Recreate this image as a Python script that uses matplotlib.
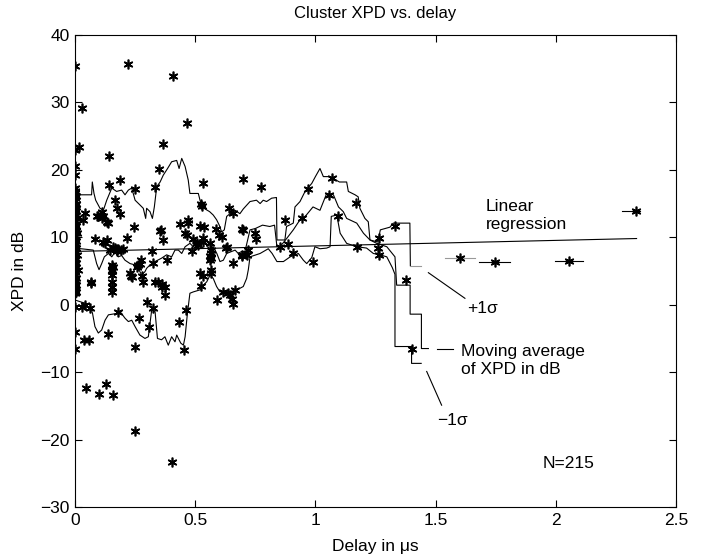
import numpy as np
import matplotlib
matplotlib.use("Agg")
import matplotlib.pyplot as plt

plt.rcParams['font.family'] = ['Liberation Sans', 'DejaVu Sans']

# cluster points (delay in us, XPD in dB)
pts_spread = [
    (0.000, 35.4), (0.219, 35.7), (0.409, 33.9), (0.030, 29.1), (0.467, 26.9),
    (0.017, 23.4), (0.000, 22.9), (0.366, 23.8), (0.143, 22.1), (0.000, 20.5),
    (0.351, 20.1), (0.000, 19.2), (0.187, 18.5), (0.531, 18.1), (0.697, 18.7),
    (0.141, 17.7), (0.333, 17.5), (0.774, 17.4), (0.251, 17.1), (0.971, 17.2),
    (0.166, 15.6), (0.523, 15.0), (0.527, 14.6), (0.176, 14.4), (0.639, 14.3),
    (0.187, 13.4), (0.042, 13.6), (0.111, 13.8), (0.659, 13.6), (0.090, 13.1),
    (0.111, 12.8), (0.035, 12.6), (0.132, 12.2), (0.943, 12.9), (0.875, 12.5),
    (0.245, 11.5), (0.437, 12.0), (0.471, 12.6), (0.471, 12.1), (0.520, 11.7),
    (0.537, 11.5), (0.585, 11.3), (0.693, 11.3), (0.697, 11.1), (0.354, 10.9),
    (0.458, 10.7), (0.464, 10.4), (0.749, 10.6), (0.753, 9.7), (0.600, 10.3),
    (0.610, 10.0), (0.367, 9.6), (0.215, 9.9), (0.083, 9.7), (0.132, 9.6),
    (0.118, 9.3), (0.492, 9.7), (0.531, 9.9), (0.534, 9.3), (0.506, 9.1),
    (0.562, 9.2), (0.157, 8.6), (0.166, 8.4), (0.146, 8.1), (0.173, 7.9),
    (0.198, 8.2), (0.319, 8.0), (0.488, 8.0), (0.627, 8.4), (0.566, 8.1),
    (0.566, 7.6), (0.566, 7.0), (0.853, 8.6), (0.885, 9.0), (0.908, 7.7),
    (0.721, 8.1), (0.693, 7.4), (0.714, 7.4), (0.381, 6.7), (0.326, 6.2),
    (0.275, 6.6), (0.270, 6.0), (0.257, 5.6), (0.159, 5.6), (0.153, 5.0),
    (0.520, 4.7), (0.534, 4.2), (0.566, 4.7), (0.566, 5.2), (0.229, 4.7),
    (0.277, 4.2), (0.659, 6.2), (0.067, 3.3), (0.153, 4.4), (0.153, 3.4),
    (0.155, 2.7), (0.153, 1.9), (0.232, 4.3), (0.263, 5.9), (0.284, 3.4),
    (0.236, 4.1), (0.333, 3.3), (0.344, 3.3), (0.360, 3.0), (0.374, 2.6),
    (0.374, 1.4), (0.523, 2.8), (0.589, 0.7), (0.617, 1.9), (0.638, 1.8),
    (0.645, 1.4), (0.652, 0.9), (0.659, 0.1), (0.666, 2.2), (0.000, -0.3),
    (0.042, 0.0), (0.062, -0.5), (0.000, -4.1), (0.000, -6.5), (0.039, -5.3),
    (0.060, -5.3), (0.136, -4.3), (0.180, -1.1), (0.266, -2.0), (0.250, -6.2),
    (0.298, 0.4), (0.309, -3.3), (0.323, -0.5), (0.434, -2.5), (0.462, -0.8),
    (0.453, -6.7), (0.046, -12.3), (0.101, -13.2), (0.128, -11.8), (0.159, -13.4),
    (0.250, -18.7), (0.405, -23.3),
    (0.097, 13.1), (0.118, 13.1), (0.139, 12.1), (0.358, 11.1), (0.125, 9.1),
    (0.513, 8.9), (0.631, 8.5), (0.180, 8.2), (0.190, 8.1), (0.562, 7.2),
    (0.562, 6.7), (0.693, 7.2), (0.153, 5.9), (0.153, 5.2), (0.065, 3.2),
    (0.363, 2.7), (0.028, -0.3),
]
# dense column of clusters at zero delay
pts_dense = [
    (0.000, 17.3), (0.000, 16.9), (0.000, 16.5), (0.004, 16.1), (0.000, 15.8),
    (0.000, 15.4), (0.006, 15.0), (0.000, 14.7), (0.000, 14.2), (0.003, 13.9),
    (0.000, 13.5), (0.000, 13.1), (0.008, 12.8), (0.000, 12.4), (0.000, 12.0),
    (0.004, 11.7), (0.000, 11.3), (0.000, 10.9), (0.010, 10.6), (0.000, 10.2),
    (0.000, 9.8), (0.005, 9.5), (0.000, 9.1), (0.000, 8.8), (0.003, 8.4),
    (0.000, 8.0), (0.000, 7.7), (0.007, 7.3), (0.000, 6.9), (0.000, 6.6),
    (0.004, 6.2), (0.000, 5.8), (0.000, 5.5), (0.012, 5.1), (0.000, 4.8),
    (0.000, 4.4), (0.005, 4.0), (0.000, 3.7), (0.000, 3.3), (0.003, 2.9),
    (0.000, 2.6), (0.000, 2.2), (0.006, 1.9), (0.000, 1.7), (0.004, 14.9),
    (0.004, 11.0),
]
pts_far = [
    (1.068, 18.8), (1.058, 16.3), (1.095, 13.2), (1.167, 15.1), (0.991, 6.3),
    (1.175, 8.6), (1.266, 9.9), (1.262, 8.4), (1.265, 7.3), (1.331, 11.7),
    (1.376, 3.6), (1.400, -6.6), (1.601, 6.9), (1.747, 6.3), (2.055, 6.5),
    (2.334, 13.9),
]

# moving average +1 sigma
up_x = [0, 0.069, 0.072, 0.079, 0.086, 0.104, 0.118, 0.132, 0.153, 0.173, 0.194, 0.208,
        0.222, 0.236, 0.25, 0.27, 0.284, 0.294, 0.298, 0.312, 0.322, 0.33, 0.34, 0.354,
        0.367, 0.385, 0.402, 0.423, 0.433, 0.444, 0.458, 0.471, 0.478, 0.513, 0.52, 0.527,
        0.56, 0.575, 0.589, 0.6, 0.61, 0.621, 0.631, 0.645, 0.666, 0.686, 0.70, 0.728,
        0.755, 0.77, 0.783, 0.797, 0.818, 0.838, 0.84, 0.873, 0.88, 0.908, 0.915, 0.936,
        0.957, 0.985, 1.0, 1.019, 1.033, 1.054, 1.075, 1.1, 1.13, 1.137, 1.165, 1.178,
        1.185, 1.206, 1.22, 1.227, 1.26, 1.27, 1.31, 1.324, 1.393, 1.395]
up_y = [16.3, 16.3, 18.2, 16.5, 15.5, 14.3, 14.0, 15.5, 17.3, 16.8, 17.0, 16.3,
        17.0, 17.3, 15.5, 14.8, 14.3, 12.8, 14.3, 13.8, 12.8, 14.5, 17.5, 18.2,
        19.2, 20.2, 21.2, 21.4, 20.2, 21.7, 20.5, 18.5, 16.5, 16.5, 15.5, 14.5,
        13.8, 13.3, 12.6, 11.8, 10.8, 11.1, 13.1, 13.5, 14.0, 13.5, 14.2, 15.3,
        15.5, 15.0, 15.5, 15.3, 15.8, 15.9, 9.6, 9.6, 11.6, 12.1, 14.5, 15.3,
        16.8, 18.0, 19.0, 20.2, 19.0, 19.0, 18.7, 18.2, 18.2, 16.8, 16.3, 16.0,
        14.3, 12.8, 12.3, 9.6, 9.3, 11.1, 11.5, 12.1, 12.1, 5.8]
up_tail_x = [1.395, 1.44]
up_tail_y = [5.8, 5.8]

# moving average of XPD
avg_x = [0, 0.076, 0.09, 0.1, 0.111, 0.122, 0.139, 0.153, 0.166, 0.18, 0.194, 0.208,
         0.229, 0.25, 0.263, 0.277, 0.291, 0.298, 0.312, 0.333, 0.36, 0.381, 0.402,
         0.416, 0.43, 0.444, 0.458, 0.478, 0.492, 0.506, 0.52, 0.534, 0.548, 0.562,
         0.575, 0.59, 0.603, 0.617, 0.631, 0.652, 0.666, 0.679, 0.693, 0.707, 0.728,
         0.75, 0.78, 0.81, 0.83, 0.84, 0.853, 0.88, 0.908, 0.936, 0.96, 0.99, 1.019,
         1.047, 1.075, 1.096, 1.116, 1.13, 1.172, 1.2, 1.227, 1.255, 1.297, 1.331,
         1.338, 1.394, 1.394, 1.441, 1.441, 1.47]
avg_y = [8.4, 8.1, 6.1, 5.2, 6.1, 7.1, 7.6, 7.1, 7.8, 7.1, 7.3, 6.6,
         6.1, 5.9, 5.4, 4.4, 4.9, 5.4, 5.9, 6.4, 6.9, 7.4, 7.1,
         8.1, 8.1, 7.6, 8.6, 9.1, 8.6, 9.6, 9.1, 9.3, 8.9, 8.1,
         8.6, 7.6, 6.4, 6.6, 7.6, 7.9, 8.1, 7.6, 7.9, 7.9, 11.1,
         11.3, 11.8, 11.6, 11.8, 8.6, 8.6, 9.8, 11.1, 12.6, 13.2, 14.5, 14.0,
         16.5, 16.3, 14.5, 13.8, 12.8, 12.1, 10.6, 9.6, 9.1, 8.6, 7.1,
         2.9, 2.9, -1.4, -1.4, -6.5, -6.5]

# moving average -1 sigma
lo_x = [0, 0.021, 0.062, 0.073, 0.083, 0.097, 0.111, 0.125, 0.139, 0.173, 0.187, 0.208,
        0.222, 0.236, 0.25, 0.27, 0.291, 0.305, 0.319, 0.333, 0.343, 0.36, 0.374, 0.388,
        0.402, 0.416, 0.423, 0.44, 0.451, 0.458, 0.467, 0.478, 0.492, 0.52, 0.534, 0.548,
        0.562, 0.575, 0.589, 0.603, 0.658, 0.70, 0.714, 0.721, 0.728, 0.77, 0.804, 0.82,
        0.84, 0.867, 0.895, 0.929, 0.95, 0.964, 0.985, 0.998, 1.019, 1.047, 1.061, 1.066,
        1.089, 1.103, 1.13, 1.172, 1.213, 1.241, 1.269, 1.297, 1.32, 1.331, 1.331, 1.40,
        1.40, 1.44]
lo_y = [0.7, 0.45, 0.0, -1.3, -3.25, -4.2, -3.75, -2.3, -1.5, -1.3, -1.0, -2.0,
        -2.5, -2.3, -3.25, -4.5, -5.0, -4.75, -0.8, -1.0, -5.0, -5.2, -4.75, -6.0,
        -4.75, -5.5, -4.5, -5.7, -6.0, -4.75, -1.5, 1.7, 1.9, 2.2, 2.9, 3.4,
        4.4, 3.9, 2.7, 1.9, 1.9, 2.7, 3.9, 5.2, 7.1, 7.6, 8.3, 7.6,
        6.4, 6.4, 7.1, 7.6, 6.6, 6.1, 7.0, 8.6, 8.3, 8.4, 8.6, 13.1,
        13.3, 10.6, 9.1, 8.6, 8.4, 7.6, 7.4, 7.1, 5.5, 4.5, -6.2, -6.2,
        -8.7, -8.7]

# short horizontal pieces around the isolated late clusters
late_seg_x = [(1.539, 1.664), (1.682, 1.81), (1.997, 2.115), (2.274, 2.35)]
late_seg_y = [6.9, 6.3, 6.5, 13.9]
late_seg_col = ['0.6', 'k', 'k', 'k']

# linear regression XPD = b0 + b1*delay
reg_b0 = 7.9
reg_b1 = 0.82
reg_xmax = 2.336

fig = plt.figure(figsize=(7.01, 5.6), dpi=100)
ax = fig.add_axes([75/701, 53/560, 601/701, 472/560])

lw = 0.8
ax.plot(up_x, up_y, color='k', lw=lw)
ax.plot(up_tail_x, up_tail_y, color='0.6', lw=lw)
ax.plot(avg_x, avg_y, color='k', lw=lw)
ax.plot(lo_x, lo_y, color='k', lw=lw)
for (x0, x1), yy, cc in zip(late_seg_x, late_seg_y, late_seg_col):
    ax.plot([x0, x1], [yy, yy], color=cc, lw=lw)

rx = np.array([0.0, reg_xmax])
ax.plot(rx, reg_b0 + reg_b1 * rx, color='k', lw=lw)

star = (6, 2, 0)
for pts in (pts_spread, pts_dense, pts_far):
    px = [p[0] for p in pts]
    py = [p[1] for p in pts]
    ax.plot(px, py, linestyle='none', marker=star, ms=7, mec='k', mfc='k', mew=1.2)

# labels with pointer lines
fs = 12.5
ax.text(1.71, 13.2, 'Linear\nregression', fontsize=fs, ha='left', va='center', linespacing=1.25)
ax.plot([1.47, 1.622], [4.75, 0.95], color='k', lw=lw)
ax.text(1.632, -0.5, '+1σ', fontsize=fs, ha='left', va='center')
ax.plot([1.507, 1.574], [-6.57, -6.57], color='k', lw=lw)
ax.text(1.604, -8.3, 'Moving average\nof XPD in dB', fontsize=fs, ha='left', va='center', linespacing=1.25)
ax.plot([1.463, 1.525], [-9.9, -14.9], color='k', lw=lw)
ax.text(1.507, -17.1, '\u22121σ', fontsize=fs, ha='left', va='center')
ax.text(1.947, -23.5, 'N=215', fontsize=fs, ha='left', va='center')

ax.set_xlim(0, 2.5)
ax.set_ylim(-30, 40)
ax.set_xticks([0, 0.5, 1, 1.5, 2, 2.5])
ax.set_xticklabels(['0', '0.5', '1', '1.5', '2', '2.5'])
ax.set_yticks(range(-30, 41, 10))
ax.tick_params(direction='in', top=True, right=True, length=5, width=0.8, labelsize=12.5, pad=4)
for s in ax.spines.values():
    s.set_linewidth(0.8)

ax.set_title('Cluster XPD vs. delay', fontsize=12, pad=12)
ax.set_xlabel('Delay in μs', fontsize=12.5, labelpad=8)
ax.set_ylabel('XPD in dB', fontsize=12.5, labelpad=9)

plt.savefig('out.png', dpi=100)
